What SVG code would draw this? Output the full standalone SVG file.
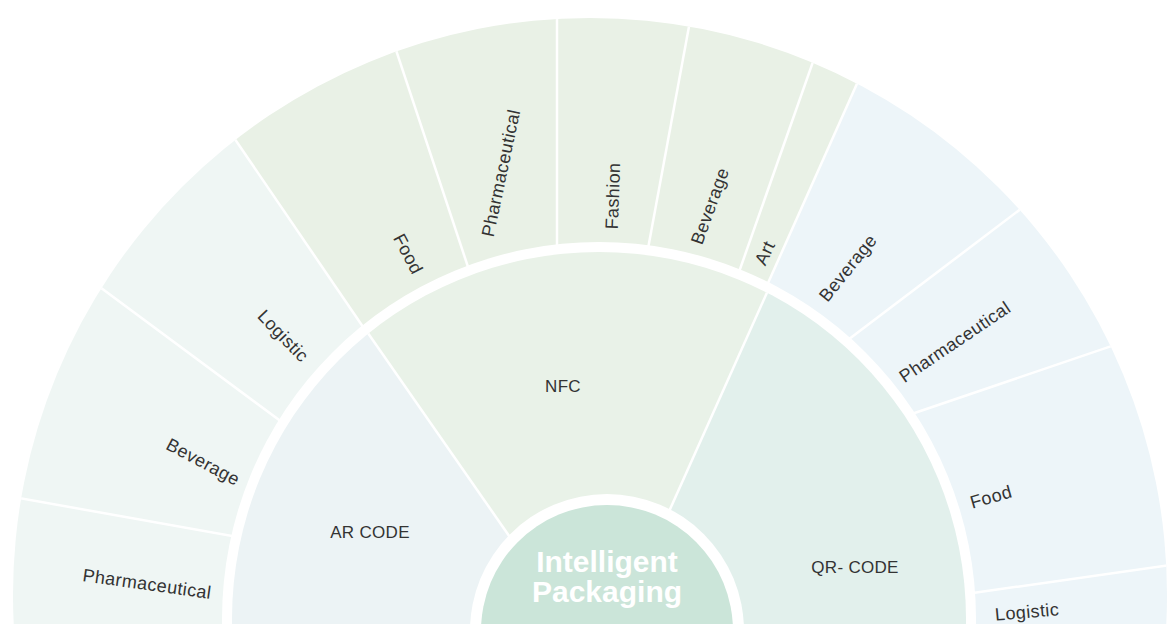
<svg xmlns="http://www.w3.org/2000/svg" width="1169" height="624" viewBox="0 0 1169 624">
<style>
.lbl{font-family:"Liberation Sans",Arial,sans-serif;font-size:18px;fill:#333;text-anchor:middle;dominant-baseline:central;letter-spacing:0.4px}
.mlbl{font-family:"Liberation Sans",Arial,sans-serif;font-size:17px;fill:#333;text-anchor:middle;dominant-baseline:central;letter-spacing:0.3px}
.ctr{font-family:"Liberation Sans",Arial,sans-serif;font-size:30px;font-weight:bold;fill:#fff;text-anchor:middle}
.sep{stroke:#fff;stroke-width:2.5;fill:none}
.ar{fill:#eff6f4}.nfc{fill:#e9f1e6}.qr{fill:#edf5f9}
.mar{fill:#ecf3f5}.mnfc{fill:#e9f2e8}.mqr{fill:#e2f0ec}
</style>
<defs>
<clipPath id="outerClip"><circle cx="590" cy="595" r="577"/></clipPath>
<clipPath id="midClip"><circle cx="599" cy="619" r="367"/></clipPath>
</defs>
<rect width="1169" height="624" fill="#fff"/>
<g id="outer-ring" clip-path="url(#outerClip)">
<g id="ar-pharmaceutical"><polygon class="ar" points="240,700 -300,800 -222,455 260,541 600,640"/></g>
<g id="ar-beverage"><polygon class="ar" points="260,541 -222,455 -93,144 298,434 600,640"/></g>
<g id="ar-logistic"><polygon class="ar" points="298,434 -93,144 97,-63 374,343 600,640"/></g>
<g id="nfc-food"><polygon class="nfc" points="374,343 97,-63 318,-185 473,282 600,640"/></g>
<g id="nfc-pharmaceutical"><polygon class="nfc" points="473,282 318,-185 557,-234 557,264 600,640"/></g>
<g id="nfc-fashion"><polygon class="nfc" points="557,264 557,-234 735,-223 645,265 600,640"/></g>
<g id="nfc-beverage"><polygon class="nfc" points="645,265 735,-223 896,-174 733,289 600,640"/></g>
<g id="nfc-art"><polygon class="nfc" points="733,289 896,-174 959,-145 760,301 600,640"/></g>
<g id="qr-beverage"><polygon class="qr" points="760,301 959,-145 1216,61 832,352 600,640"/></g>
<g id="qr-pharmaceutical"><polygon class="qr" points="832,352 1216,61 1347,266 891,421 600,640"/></g>
<g id="qr-food"><polygon class="qr" points="891,421 1347,266 1416,530 952,596 600,640"/></g>
<g id="qr-logistic"><polygon class="qr" points="952,596 1416,530 1500,780 975,700 600,640"/></g>
</g>
<g id="connectors">
<g clip-path="url(#outerClip)">
<line class="sep" x1="260" y1="541" x2="-222" y2="455"/>
<line class="sep" x1="298" y1="434" x2="-93" y2="144"/>
<line class="sep" x1="374" y1="343" x2="97" y2="-63"/>
<line class="sep" x1="473" y1="282" x2="318" y2="-185"/>
<line class="sep" x1="557" y1="264" x2="557" y2="-234"/>
<line class="sep" x1="645" y1="265" x2="735" y2="-223"/>
<line class="sep" x1="733" y1="289" x2="896" y2="-174"/>
<line class="sep" x1="760" y1="301" x2="959" y2="-145"/>
<line class="sep" x1="832" y1="352" x2="1216" y2="61"/>
<line class="sep" x1="891" y1="421" x2="1347" y2="266"/>
<line class="sep" x1="952" y1="596" x2="1416" y2="530"/>
</g>
</g>
<circle id="gap-outer" cx="599" cy="619" r="377" fill="#fff"/>
<g id="middle-ring" clip-path="url(#midClip)">
<g id="ar-code"><polygon class="mar" points="553,599 164,40 -300,100 -300,1200 600,1200 600,640"/></g>
<g id="nfc"><polygon class="mnfc" points="553,599 164,40 915,-38 637,583 600,640"/></g>
<g id="qr-code"><polygon class="mqr" points="637,583 915,-38 1500,0 1500,1200 600,1200 600,640"/></g>
<line class="sep" stroke-width="2" x1="553" y1="599" x2="164" y2="40"/>
<line class="sep" stroke-width="2" x1="637" y1="583" x2="915" y2="-38"/>
</g>
<circle cx="607" cy="631" r="137" fill="#fff"/>
<g id="center">
<circle cx="607" cy="631" r="126" fill="#cbe5d9"/>
<text class="ctr" x="607" y="572">Intelligent</text>
<text class="ctr" x="607" y="602">Packaging</text>
</g>
<g id="labels">
<text class="mlbl" x="563" y="386">NFC</text>
<text class="mlbl" x="370" y="532">AR CODE</text>
<text class="mlbl" x="855" y="567">QR- CODE</text>
<text class="lbl" transform="translate(147,584) rotate(8)">Pharmaceutical</text>
<text class="lbl" transform="translate(203,462) rotate(28)">Beverage</text>
<text class="lbl" transform="translate(283,336) rotate(46)">Logistic</text>
<text class="lbl" transform="translate(408,254) rotate(62)">Food</text>
<text class="lbl" transform="translate(501,173) rotate(-78)">Pharmaceutical</text>
<text class="lbl" transform="translate(613,196) rotate(-88)">Fashion</text>
<text class="lbl" transform="translate(710,206) rotate(-70)">Beverage</text>
<text class="lbl" transform="translate(765,253) rotate(-65)">Art</text>
<text class="lbl" transform="translate(848,268) rotate(-51)">Beverage</text>
<text class="lbl" transform="translate(955,342) rotate(-34)">Pharmaceutical</text>
<text class="lbl" transform="translate(991,497) rotate(-16)">Food</text>
<text class="lbl" transform="translate(1027,612) rotate(-5)">Logistic</text>
</g>
</svg>
